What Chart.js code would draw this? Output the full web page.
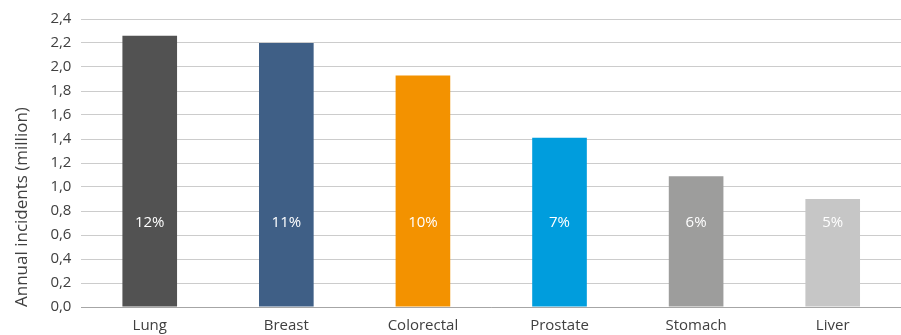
<!doctype html>
<html lang="en">
  <head>
    <meta charset="utf-8">
    <title>Annual cancer incidents</title>
    <script src="https://cdn.jsdelivr.net/npm/chart.js@4"></script>
    <style>
      html, body { margin: 0; padding: 0; background: #fff; }
      #wrap { width: 901px; height: 335px; position: relative; }
    </style>
  </head>
  <body>
    <div id="wrap"><canvas id="chart"></canvas></div>
    <script>
      const categories = ["Lung", "Breast", "Colorectal", "Prostate", "Stomach", "Liver"];
      const incidents = [2.26, 2.20, 1.93, 1.41, 1.09, 0.90];
      const shares = ["12%", "11%", "10%", "7%", "6%", "5%"];
      const barColors = ["#525252", "#3f5f86", "#f39200", "#009ddd", "#9d9d9c", "#c6c6c6"];
      const yTicks = [0, 0.2, 0.4, 0.6, 0.8, 1.0, 1.2, 1.4, 1.6, 1.8, 2.0, 2.2, 2.4];

      const font = "'Open Sans', 'Noto Sans', sans-serif";

      // percent labels sit at a fixed height inside every bar
      const shareLabels = {
        id: "shareLabels",
        afterDatasetsDraw(chart) {
          const ctx = chart.ctx;
          const y = chart.scales.y.getPixelForValue(0.7);
          ctx.save();
          ctx.fillStyle = "#ffffff";
          ctx.font = "15px " + font;
          ctx.textAlign = "center";
          ctx.textBaseline = "middle";
          chart.getDatasetMeta(0).data.forEach((bar, i) => {
            ctx.fillText(shares[i], bar.x, y);
          });
          ctx.restore();
        }
      };

      new Chart(document.getElementById("chart").getContext("2d"), {
        type: "bar",
        data: {
          labels: categories,
          datasets: [{ data: incidents, backgroundColor: barColors, barPercentage: 0.4, categoryPercentage: 1 }]
        },
        options: {
          responsive: true,
          maintainAspectRatio: false,
          animation: false,
          layout: { padding: { top: -1, right: 0, bottom: -10, left: 12 } },
          plugins: { legend: { display: false }, tooltip: { enabled: false } },
          scales: {
            x: {
              grid: { display: false, drawTicks: false },
              border: { color: "#a6a6a6", width: 1 },
              ticks: { color: "#404040", font: { family: font, size: 15 }, padding: 10 }
            },
            y: {
              min: 0,
              max: 2.4,
              afterBuildTicks: axis => { axis.ticks = yTicks.map(v => ({ value: v })); },
              grid: { color: "#cccccc", lineWidth: 1, drawTicks: false },
              border: { display: false },
              ticks: {
                color: "#404040",
                font: { family: font, size: 15 },
                padding: 10,
                callback: v => v.toFixed(1).replace(".", ",")
              },
              title: {
                display: true,
                text: "Annual incidents (million)",
                align: "start",
                color: "#404040",
                font: { family: font, size: 17 },
                padding: { top: 0, bottom: 8 }
              }
            }
          }
        },
        plugins: [shareLabels]
      });
    </script>
  </body>
</html>
